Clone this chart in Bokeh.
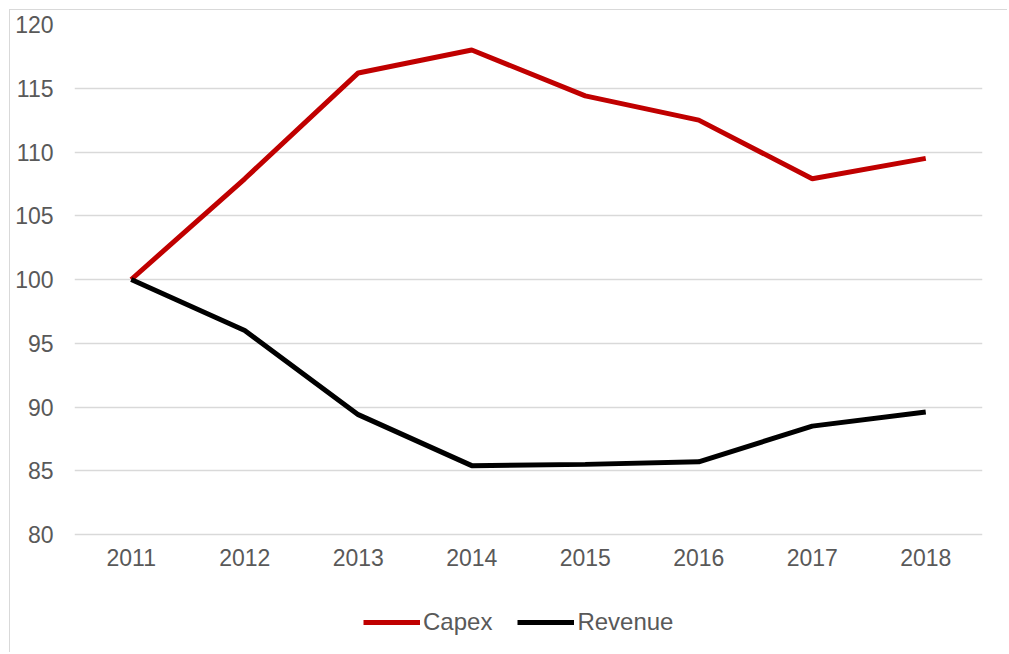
from bokeh.plotting import figure
from bokeh.models import FactorRange, Range1d, FixedTicker, Legend, LegendItem, ColumnDataSource
from bokeh.embed import file_html
from bokeh.resources import INLINE

years = ["2011", "2012", "2013", "2014", "2015", "2016", "2017", "2018"]
capex = [100, 107.9, 116.2, 118.0, 114.4, 112.5, 107.9, 109.5]
revenue = [100, 96.0, 89.4, 85.4, 85.5, 85.7, 88.5, 89.6]
y_ticks = [80, 85, 90, 95, 100, 105, 110, 115, 120]

FONT = "Liberation Sans"
TXT = "#595959"

# layout constants (pixels)
W, H = 998, 643
TOP, BOTTOM_PAD = 14, 0
PX_PER_UNIT = 12.75
frame_h = H - TOP - BOTTOM_PAD
y_max = 120
y_min = y_max - frame_h / PX_PER_UNIT   # frame extends below 80 to host the legend

p = figure(width=W, height=H, x_range=FactorRange(*years), y_range=Range1d(y_min, y_max),
           output_backend="svg", toolbar_location=None,
           min_border_left=64, min_border_right=26, min_border_top=TOP, min_border_bottom=BOTTOM_PAD,
           styles={"margin-left": "9px", "margin-top": "9px",
                   "border-left": "1px solid #d9d9d9", "border-top": "1px solid #d9d9d9"})
p.outline_line_color = None
p.background_fill_color = "white"
p.border_fill_color = "white"

src = ColumnDataSource(dict(x=years, capex=capex, revenue=revenue))
r1 = p.line("x", "capex", source=src, line_color="#c00000", line_width=5)
r2 = p.line("x", "revenue", source=src, line_color="#000000", line_width=5)

p.xgrid.grid_line_color = None
p.ygrid.grid_line_color = "#d9d9d9"
p.ygrid.grid_line_width = 1.5

p.yaxis.ticker = FixedTicker(ticks=y_ticks)
p.xaxis.fixed_location = 80
for ax in (p.xaxis[0], p.yaxis[0]):
    ax.axis_line_color = None
    ax.major_tick_line_color = None
    ax.minor_tick_line_color = None
    ax.major_tick_out = 0
    ax.major_tick_in = 0
    ax.major_label_text_font = FONT
    ax.major_label_text_font_size = "23px"
    ax.major_label_text_color = TXT
p.yaxis.major_label_standoff = 21
p.xaxis.major_label_standoff = 14

legend = Legend(items=[LegendItem(label="Capex", renderers=[r1]),
                       LegendItem(label="Revenue", renderers=[r2])],
                location=(289, 17), orientation="horizontal",
                glyph_width=57, glyph_height=20, label_standoff=3, spacing=25,
                padding=0, margin=0, border_line_color=None, background_fill_alpha=0,
                label_text_font=FONT, label_text_font_size="24px", label_text_color=TXT)
p.add_layout(legend, "center")

open("out.html", "w").write(file_html(p, INLINE))
